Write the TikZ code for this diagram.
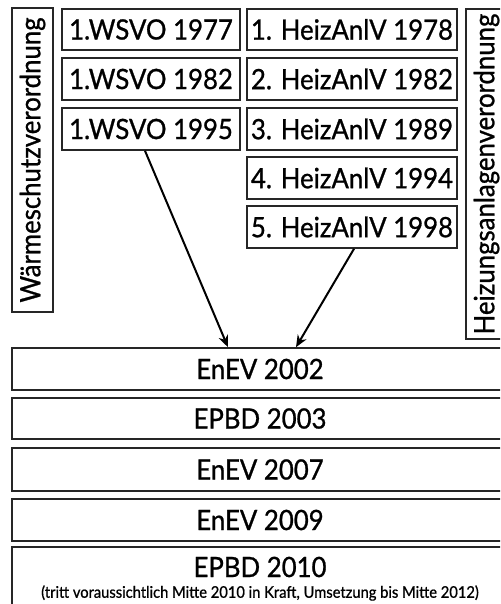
\documentclass[tikz,border=0pt]{standalone}
\usepackage{fontspec}
\setmainfont{Lato}[FakeBold=0.9,FakeStretch=0.92]
\usetikzlibrary{arrows.meta}
\begin{document}
\begin{tikzpicture}[x=1pt,y=-1pt,
  box/.style={draw=black!85,line width=1.6pt,inner sep=0pt,font=\fontsize{28}{30}\selectfont},
  conn/.style={-{Stealth[length=12pt,width=10pt]},line width=2pt}]
\useasboundingbox (0,0) rectangle (500,604);
\clip (0,0) rectangle (500,604);
% left vertical
\node[box,minimum width=304pt,minimum height=41pt,rotate=90] (wv) at (32.5,160) {Wärmeschutzverordnung};
% right vertical
\node[box,minimum width=330pt,minimum height=41pt,rotate=90] (hv) at (486.5,174) {Heizungsanlagenverordnung};
% WSVO
\node[box,minimum width=178pt,minimum height=41pt] (w1) at (151,29.5) {1.WSVO 1977};
\node[box,minimum width=178pt,minimum height=42pt] (w2) at (151,79) {1.WSVO 1982};
\node[box,minimum width=178pt,minimum height=42pt] (w3) at (151,129) {1.WSVO 1995};
% HeizAnlV
\node[box,minimum width=210pt,minimum height=41pt] (h1) at (352,29.5) {1. HeizAnlV 1978};
\node[box,minimum width=210pt,minimum height=42pt] (h2) at (352,79) {2. HeizAnlV 1982};
\node[box,minimum width=210pt,minimum height=42pt] (h3) at (352,129) {3. HeizAnlV 1989};
\node[box,minimum width=210pt,minimum height=42pt] (h4) at (352,178) {4. HeizAnlV 1994};
\node[box,minimum width=210pt,minimum height=42pt] (h5) at (352,227) {5. HeizAnlV 1998};
% wide boxes
\node[box,minimum width=496pt,minimum height=42pt] (e1) at (260,369) {EnEV 2002};
\node[box,minimum width=496pt,minimum height=41pt] (e2) at (260,418.5) {EPBD 2003};
\node[box,minimum width=496pt,minimum height=43pt] (e3) at (260,469.5) {EnEV 2007};
\node[box,minimum width=496pt,minimum height=42pt] (e4) at (260,520) {EnEV 2009};
\node[box,minimum width=496pt,minimum height=72pt] (e5) at (260,583) {};
\node[font=\fontsize{28}{30}\selectfont,inner sep=0pt] (t5) at (260,567) {EPBD 2010};
\node[font=\fontsize{16}{18}\selectfont,inner sep=0pt] (t6) at (260,593) {(tritt voraussichtlich Mitte 2010 in Kraft, Umsetzung bis Mitte 2012)};
% arrows
\draw[conn] ([xshift=-6pt]w3.south) -- ([xshift=-32pt]e1.north);
\draw[conn] ([xshift=2pt]h5.south) -- ([xshift=36pt]e1.north);
\end{tikzpicture}
\end{document}
